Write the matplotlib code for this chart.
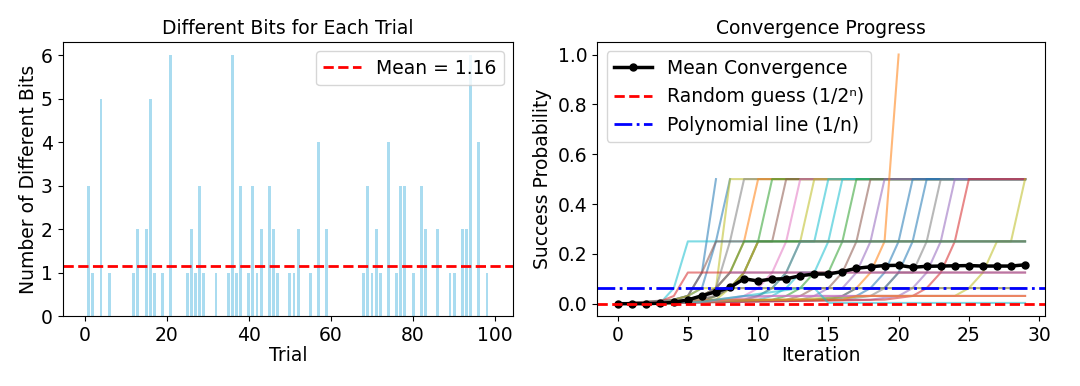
import matplotlib
matplotlib.use("Agg")
import matplotlib.pyplot as plt
import numpy as np

# ---------------- Data ----------------
# Left panel: number of different bits per trial (trial index 0..99)
bit_trials = list(range(100))
bit_nonzero = {1: 3, 2: 1, 4: 5, 6: 1, 12: 1, 13: 2, 15: 2, 16: 5, 17: 1, 19: 1,
               21: 6, 25: 1, 26: 2, 27: 1, 28: 3, 29: 1, 32: 1, 35: 1, 36: 6, 37: 1,
               38: 3, 40: 1, 41: 3, 42: 1, 43: 2, 45: 3, 46: 2, 47: 1, 50: 1, 51: 1,
               52: 2, 55: 1, 57: 4, 59: 2, 68: 1, 69: 3, 70: 1, 71: 2, 72: 1, 74: 4,
               76: 1, 77: 3, 78: 3, 80: 1, 82: 3, 83: 2, 86: 2, 89: 1, 90: 1, 92: 2,
               93: 2, 94: 6, 96: 4, 98: 1}
bit_values = [bit_nonzero.get(t, 0) for t in bit_trials]
mean_bits = 1.16

# Right panel: mean convergence per iteration
iterations = list(range(30))
mean_conv = [0.0, 0.0, 0.0, 0.002, 0.005, 0.015, 0.032, 0.048, 0.065, 0.100,
             0.091, 0.099, 0.100, 0.112, 0.119, 0.119, 0.129, 0.142, 0.148, 0.153,
             0.154, 0.146, 0.150, 0.151, 0.152, 0.153, 0.151, 0.151, 0.151, 0.156]
n_qubits = 16
random_guess = 1 / 2 ** n_qubits
poly_line = 1 / n_qubits

# Individual trial curves: (iteration, probability) breakpoints
trial_points = [
    [(0, 0), (3, 0), (4, 0.016), (5, 0.031), (6, 0.125), (7, 0.5)],
    [(0, 0), (3, 0), (4, 0.016), (5, 0.031), (6, 0.0625), (7, 0.25), (8, 0.5)],
    [(0, 0), (4, 0), (5, 0.016), (6, 0.031), (7, 0.0625), (8, 0.5), (29, 0.5)],
    [(0, 0), (4, 0.008), (5, 0.016), (6, 0.031), (7, 0.0625), (8, 0.25), (9, 0.5), (29, 0.5)],
    [(0, 0), (5, 0.008), (6, 0.031), (7, 0.0625), (8, 0.125), (9, 0.25), (10, 0.5), (29, 0.5)],
    [(0, 0), (6, 0.008), (7, 0.031), (8, 0.0625), (9, 0.125), (10, 0.25), (11, 0.5), (29, 0.5)],
    [(0, 0), (6, 0.016), (7, 0.031), (8, 0.0625), (9, 0.125), (10, 0.25), (11, 0.25), (12, 0.5), (29, 0.5)],
    [(0, 0), (8, 0.016), (9, 0.031), (10, 0.0625), (11, 0.125), (12, 0.25), (13, 0.5), (29, 0.5)],
    [(0, 0), (7, 0.016), (8, 0.0625), (9, 0.125), (10, 0.25), (13, 0.25), (14, 0.5), (29, 0.5)],
    [(0, 0), (9, 0.016), (10, 0.031), (11, 0.0625), (12, 0.125), (13, 0.25), (14, 0.25), (15, 0.5), (29, 0.5)],
    [(0, 0), (10, 0.016), (11, 0.031), (12, 0.0625), (13, 0.125), (14, 0.125), (15, 0.25), (16, 0.5), (29, 0.5)],
    [(0, 0), (11, 0.016), (12, 0.031), (13, 0.0625), (14, 0.125), (15, 0.125), (16, 0.25), (17, 0.5), (29, 0.5)],
    [(0, 0), (12, 0.016), (13, 0.031), (14, 0.0625), (15, 0.0625), (16, 0.125), (17, 0.25), (18, 0.5), (29, 0.5)],
    [(0, 0), (13, 0.016), (14, 0.031), (15, 0.0625), (16, 0.0625), (17, 0.125), (18, 0.25), (19, 0.5), (29, 0.5)],
    [(0, 0), (15, 0.016), (16, 0.031), (17, 0.0625), (18, 0.125), (19, 0.25), (20, 1.0)],
    [(0, 0), (14, 0.016), (16, 0.031), (17, 0.0625), (18, 0.0625), (19, 0.125), (20, 0.25), (21, 0.5), (29, 0.5)],
    [(0, 0), (15, 0.016), (17, 0.031), (18, 0.0625), (19, 0.0625), (20, 0.125), (21, 0.25), (22, 0.5), (29, 0.5)],
    [(0, 0), (16, 0.016), (18, 0.031), (19, 0.0625), (20, 0.125), (21, 0.125), (22, 0.25), (23, 0.5), (29, 0.5)],
    [(0, 0), (18, 0.016), (20, 0.031), (21, 0.0625), (22, 0.125), (23, 0.25), (24, 0.5), (29, 0.5)],
    [(0, 0), (19, 0.016), (21, 0.031), (22, 0.0625), (23, 0.125), (24, 0.25), (25, 0.5), (29, 0.5)],
    [(0, 0), (12, 0.016), (18, 0.031), (24, 0.031), (25, 0.0625), (26, 0.125), (27, 0.25), (28, 0.25), (29, 0.5)],
    [(0, 0), (3, 0), (4, 0.0625), (5, 0.25), (29, 0.25)],
    [(0, 0), (4, 0.016), (5, 0.031), (6, 0.125), (7, 0.25), (29, 0.25)],
    [(0, 0), (5, 0.016), (6, 0.031), (7, 0.0625), (8, 0.125), (9, 0.25), (29, 0.25)],
    [(0, 0), (9, 0.016), (10, 0.031), (11, 0.0625), (12, 0.125), (13, 0.25), (29, 0.25)],
    [(0, 0), (3, 0.008), (4, 0.031), (5, 0.125), (29, 0.125)],
    [(0, 0), (5, 0.016), (6, 0.031), (7, 0.0625), (8, 0.125), (29, 0.125)],
    [(0, 0), (3, 0), (4, 0.016), (5, 0.031), (6, 0.0625), (29, 0.0625)],
    [(0, 0), (5, 0.016), (7, 0.031), (8, 0.0625), (29, 0.0625)],
    [(0, 0), (5, 0.008), (7, 0.016), (9, 0.031), (29, 0.031)],
    [(0, 0), (6, 0.008), (8, 0.016), (11, 0.031), (29, 0.031)],
    [(0, 0), (5, 0.008), (7, 0.016), (16, 0.016), (17, 0.031), (29, 0.031)],
    [(0, 0), (6, 0.008), (9, 0.031), (13, 0.0625), (14, 0.0625), (15, 0.003), (29, 0.003)],
]
trial_colors = [
    "tab:blue", "tab:blue", "tab:olive", "tab:gray", "tab:orange", "tab:green",
    "tab:brown", "tab:pink", "tab:olive", "tab:cyan", "tab:cyan", "tab:green",
    "tab:brown", "tab:purple", "tab:orange", "tab:blue", "tab:blue", "tab:gray",
    "tab:purple", "tab:red", "tab:olive", "tab:cyan", "tab:brown", "tab:green",
    "tab:gray", "tab:red", "tab:purple", "tab:olive", "tab:gray", "tab:purple",
    "tab:pink", "tab:orange", "tab:cyan",
]

# ---------------- Plot ----------------
plt.rcParams["font.family"] = ["DejaVu Sans"]
FS = 13.5

fig = plt.figure(figsize=(10.8, 3.86), dpi=100)
ax1 = fig.add_axes([0.058, 0.181, 0.417, 0.710])
ax2 = fig.add_axes([0.553, 0.181, 0.415, 0.710])

# Left
ax1.bar(bit_trials, bit_values, width=0.7, color="skyblue", alpha=0.7)
ax1.axhline(mean_bits, color="red", linestyle="--", linewidth=2,
            label=f"Mean = {mean_bits:.2f}")
ax1.set_title("Different Bits for Each Trial", fontsize=FS)
ax1.set_xlabel("Trial", fontsize=FS, labelpad=1)
ax1.set_ylabel("Number of Different Bits", fontsize=FS, labelpad=2)
ax1.tick_params(labelsize=FS)
ax1.legend(fontsize=FS, loc="upper right")

# Right
for pts, col in zip(trial_points, trial_colors):
    xs = [p[0] for p in pts]
    ys = [p[1] for p in pts]
    ax2.plot(xs, ys, color=col, alpha=0.55, linewidth=1.5)
ax2.plot(iterations, mean_conv, color="black", linewidth=2.5, marker="o",
         markersize=5, label="Mean Convergence")
ax2.axhline(random_guess, color="red", linestyle="--", linewidth=2,
            label="Random guess (1/2ⁿ)")
ax2.axhline(poly_line, color="blue", linestyle="-.", linewidth=2,
            label="Polynomial line (1/n)")
ax2.set_title("Convergence Progress", fontsize=FS)
ax2.set_xlabel("Iteration", fontsize=FS, labelpad=1)
ax2.set_ylabel("Success Probability", fontsize=FS)
ax2.tick_params(labelsize=FS)
ax2.set_xticks([0, 5, 10, 15, 20, 25, 30])
ax2.legend(fontsize=FS, loc="upper left")

fig.savefig("out.png", dpi=100)
